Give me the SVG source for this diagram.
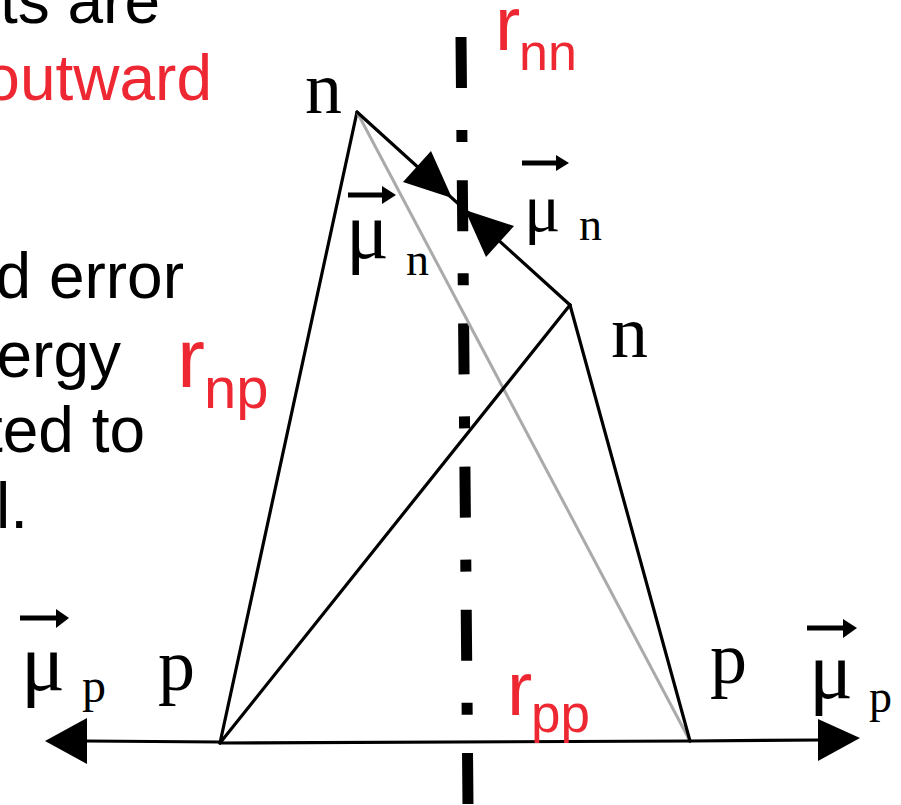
<svg xmlns="http://www.w3.org/2000/svg" width="901" height="805" viewBox="0 0 901 805">
  <style>
    .txt { font-family: "Liberation Sans", Arial, sans-serif; font-size: 64px; fill: #000; }
    .red { font-family: "Liberation Sans", Arial, sans-serif; fill: #ee2833; }
    .ser { font-family: "Liberation Serif", "Times New Roman", serif; fill: #000; }
    .edge { stroke: #000; stroke-width: 3.2; fill: none; stroke-linecap: round; }
    .grey { stroke: #aaaaaa; stroke-width: 3; fill: none; }
    .head { fill: #000; stroke: none; }
    .vec { stroke: #000; stroke-width: 5; fill: none; }
  </style>
  <rect width="901" height="805" fill="#fff"/>

  <g id="side-text">
    <text class="txt" x="160" y="23" text-anchor="end">ts are</text>
    <text class="red" x="212" y="100" font-size="64" text-anchor="end">outward</text>
    <text class="txt" x="184" y="298" text-anchor="end">d error</text>
    <text class="txt" x="121" y="377" text-anchor="end">ergy</text>
    <text class="txt" x="145" y="452" text-anchor="end">ted to</text>
    <text class="txt" x="28" y="528" text-anchor="end">l.</text>
  </g>

  <g id="axis">
    <line x1="461" y1="37" x2="468" y2="805" stroke="#000" stroke-width="11" stroke-dasharray="51 42 12 38.2"/>
  </g>

  <g id="connectors">
    <line class="edge" x1="357" y1="112" x2="220" y2="743"/>
    <line class="grey" x1="357" y1="112" x2="690" y2="741"/>
    <line class="edge" x1="357" y1="112" x2="570" y2="305"/>
    <line class="edge" x1="570" y1="305" x2="220" y2="743"/>
    <line class="edge" x1="570" y1="305" x2="690" y2="741"/>
    <line class="edge" x1="220" y1="743" x2="690" y2="741" stroke-width="3.6"/>
    <line class="edge" x1="220" y1="742" x2="85" y2="741" stroke-width="3.6"/>
    <line class="edge" x1="690" y1="741" x2="820" y2="740" stroke-width="3.6"/>
    <polygon class="head" points="452,198 403,182 431,151"/>
    <polygon class="head" points="465,210 514,226 486,257"/>
    <polygon class="head" points="45,741 87,718 87,764"/>
    <polygon class="head" points="860,738 818,719 818,761"/>
  </g>

  <g id="node-n-top">
    <text class="ser" x="305" y="113" font-size="74">n</text>
  </g>
  <g id="node-n-right">
    <text class="ser" x="611" y="357" font-size="74">n</text>
  </g>
  <g id="node-p-left">
    <text class="ser" x="158" y="690" font-size="74">p</text>
  </g>
  <g id="node-p-right">
    <text class="ser" x="710" y="683" font-size="74">p</text>
  </g>

  <g id="label-mu-n-left">
    <line class="vec" x1="348" y1="195" x2="385" y2="195"/>
    <polygon class="head" points="382,186 396,195 382,204"/>
    <text class="ser" x="346" y="258" font-size="80">μ</text>
    <text class="ser" x="406" y="275" font-size="46">n</text>
  </g>
  <g id="label-mu-n-right">
    <line class="vec" x1="522" y1="163" x2="559" y2="163"/>
    <polygon class="head" points="556,155 569,163 556,171"/>
    <text class="ser" x="524" y="231" font-size="68">μ</text>
    <text class="ser" x="579" y="240" font-size="46">n</text>
  </g>
  <g id="label-mu-p-left">
    <line class="vec" x1="20" y1="618" x2="59" y2="618"/>
    <polygon class="head" points="56,609 69,618 56,628"/>
    <text class="ser" x="21" y="690" font-size="82">μ</text>
    <text class="ser" x="82" y="702" font-size="48">p</text>
  </g>
  <g id="label-mu-p-right">
    <line class="vec" x1="807" y1="628" x2="846" y2="628"/>
    <polygon class="head" points="843,619 857,628 843,638"/>
    <text class="ser" x="809" y="698" font-size="82">μ</text>
    <text class="ser" x="869" y="712" font-size="46">p</text>
  </g>

  <g id="label-rnn">
    <text class="red" x="495" y="50" font-size="76">r</text>
    <text class="red" x="519" y="70" font-size="52">nn</text>
  </g>
  <g id="label-rnp">
    <text class="red" x="177" y="387" font-size="84">r</text>
    <text class="red" x="204" y="408" font-size="58">np</text>
  </g>
  <g id="label-rpp">
    <text class="red" x="507" y="715" font-size="76">r</text>
    <text class="red" x="531" y="732" font-size="53">pp</text>
  </g>
</svg>
